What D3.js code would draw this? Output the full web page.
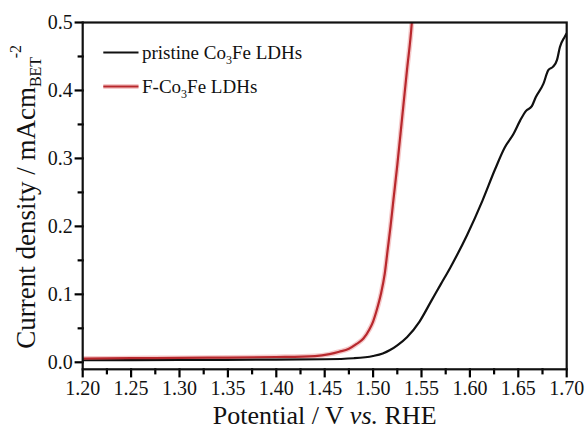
<!DOCTYPE html>
<html>
<head>
<meta charset="utf-8">
<script src="https://cdn.jsdelivr.net/npm/d3@7"></script>
<style>
  html, body { margin: 0; padding: 0; background: #fff; }
  svg { display: block; }
  text { font-family: "Liberation Serif", "Times New Roman", serif; fill: #111; }
</style>
</head>
<body>
<svg id="chart" width="588" height="431"></svg>
<script>
// Polarisation curves (current density normalised by BET area)
const potentialPristine = [1.20, 1.30, 1.40, 1.45, 1.48, 1.50, 1.51, 1.5175, 1.525, 1.535, 1.548, 1.56, 1.57, 1.58, 1.597, 1.613, 1.626, 1.636, 1.645, 1.652, 1.658, 1.664, 1.668, 1.676, 1.681, 1.686, 1.690, 1.693, 1.698, 1.700];
const currentPristine   = [0.003, 0.0035, 0.004, 0.0045, 0.006, 0.0093, 0.013, 0.018, 0.025, 0.037, 0.060, 0.090, 0.115, 0.140, 0.187, 0.238, 0.284, 0.316, 0.336, 0.356, 0.370, 0.377, 0.390, 0.410, 0.430, 0.435, 0.445, 0.464, 0.479, 0.484];

const potentialF = [1.20, 1.25, 1.30, 1.35, 1.40, 1.44, 1.455, 1.465, 1.475, 1.483, 1.49, 1.496, 1.500, 1.504, 1.508, 1.512, 1.515, 1.518, 1.521, 1.525, 1.530, 1.535, 1.540, 1.5405];
const currentF   = [0.0055, 0.006, 0.0065, 0.007, 0.0078, 0.0092, 0.012, 0.0155, 0.020, 0.027, 0.035, 0.048, 0.060, 0.078, 0.100, 0.130, 0.165, 0.200, 0.239, 0.290, 0.360, 0.430, 0.500, 0.510];

const xTicks = [1.20, 1.25, 1.30, 1.35, 1.40, 1.45, 1.50, 1.55, 1.60, 1.65, 1.70];
const yTicks = [0.0, 0.1, 0.2, 0.3, 0.4, 0.5];
const seriesNames = ["pristine Co", "F-Co"];

const svg = d3.select("#chart");
const plotL = 82.7, plotR = 566.7, plotT = 22.5, plotB = 369.3;

const x = d3.scaleLinear().domain([1.2, 1.7]).range([plotL, plotR]);
const y = d3.scaleLinear().domain([-0.0103, 0.5]).range([plotB, plotT]);

svg.append("defs").append("clipPath").attr("id", "plotClip")
  .append("rect").attr("x", plotL).attr("y", plotT).attr("width", plotR - plotL).attr("height", plotB - plotT);

// Tick marks (major and minor), all pointing outward
const xMinor = d3.range(0, 21).map(i => 1.2 + i * 0.025);
const yMinor = d3.range(0, 11).map(i => i * 0.05);
const ticks = svg.append("g").attr("stroke", "#000").attr("stroke-width", 2.2).attr("stroke-linecap", "square");

ticks.selectAll("line.xt").data(xMinor).join("line").attr("class", "xt")
  .attr("x1", d => x(d)).attr("x2", d => x(d))
  .attr("y1", plotB).attr("y2", (d, i) => plotB + (i % 2 === 0 ? 7 : 4));
ticks.selectAll("line.yt").data(yMinor).join("line").attr("class", "yt")
  .attr("y1", d => y(d)).attr("y2", d => y(d))
  .attr("x1", plotL).attr("x2", (d, i) => plotL - (i % 2 === 0 ? 7 : 4));

// Tick labels
const fmtX = d3.format(".2f"), fmtY = d3.format(".1f");
svg.append("g").selectAll("text").data(xTicks).join("text")
  .attr("x", d => x(d)).attr("y", plotB + 26)
  .attr("text-anchor", "middle").attr("font-size", 20).text(fmtX);
svg.append("g").selectAll("text").data(yTicks).join("text")
  .attr("x", plotL - 10).attr("y", d => y(d)).attr("dy", "0.33em")
  .attr("text-anchor", "end").attr("font-size", 20).text(fmtY);

// Curves
const line = d3.line().x(d => x(d[0])).y(d => y(d[1])).curve(d3.curveMonotoneX);
const pristine = potentialPristine.map((v, i) => [v, currentPristine[i]]);
const fluorinated = potentialF.map((v, i) => [v, currentF[i]]);

const plot = svg.append("g").attr("clip-path", "url(#plotClip)");
plot.append("path").datum(fluorinated).attr("d", line)
  .attr("fill", "none").attr("stroke", "#e98a8c").attr("stroke-opacity", 0.45).attr("stroke-width", 5);
plot.append("path").datum(pristine).attr("d", line)
  .attr("fill", "none").attr("stroke", "#111").attr("stroke-width", 2.2);
plot.append("path").datum(fluorinated).attr("d", line)
  .attr("fill", "none").attr("stroke", "#b8282d").attr("stroke-width", 2.2);

// Frame
svg.append("rect").attr("x", plotL).attr("y", plotT).attr("width", plotR - plotL).attr("height", plotB - plotT)
  .attr("fill", "none").attr("stroke", "#111").attr("stroke-width", 2.2);

// Legend
const legendRows = [
  { name: seriesNames[0], color: "#111", halo: false, yPos: 52.5 },
  { name: seriesNames[1], color: "#b8282d", halo: true, yPos: 86.5 }
];
legendRows.forEach(r => {
  if (r.halo) {
    svg.append("line").attr("x1", 103.3).attr("x2", 138.5).attr("y1", r.yPos).attr("y2", r.yPos)
      .attr("stroke", "#e98a8c").attr("stroke-opacity", 0.45).attr("stroke-width", 5);
  }
  svg.append("line").attr("x1", 103.3).attr("x2", 138.5).attr("y1", r.yPos).attr("y2", r.yPos)
    .attr("stroke", r.color).attr("stroke-width", 2.2);
  const t = svg.append("text").attr("x", 142).attr("y", r.yPos + 6).attr("font-size", 19);
  t.append("tspan").text(r.name);
  t.append("tspan").attr("font-size", 12).attr("dy", 5).text("3");
  t.append("tspan").attr("dy", -5).text("Fe LDHs");
});

// Axis titles
const xt = svg.append("text").attr("x", (plotL + plotR) / 2).attr("y", 424)
  .attr("text-anchor", "middle").attr("font-size", 26);
xt.append("tspan").text("Potential / V ");
xt.append("tspan").attr("font-style", "italic").text("vs.");
xt.append("tspan").text(" RHE");

const yt = svg.append("text").attr("transform", `translate(35,${(plotT + plotB) / 2 + 1}) rotate(-90)`)
  .attr("text-anchor", "middle").attr("font-size", 27);
yt.append("tspan").text("Current density / mAcm");
yt.append("tspan").attr("font-size", 16).attr("dy", 6).text("BET");
yt.append("tspan").attr("font-size", 16).attr("dy", -20).text("-2");
</script>
</body>
</html>
